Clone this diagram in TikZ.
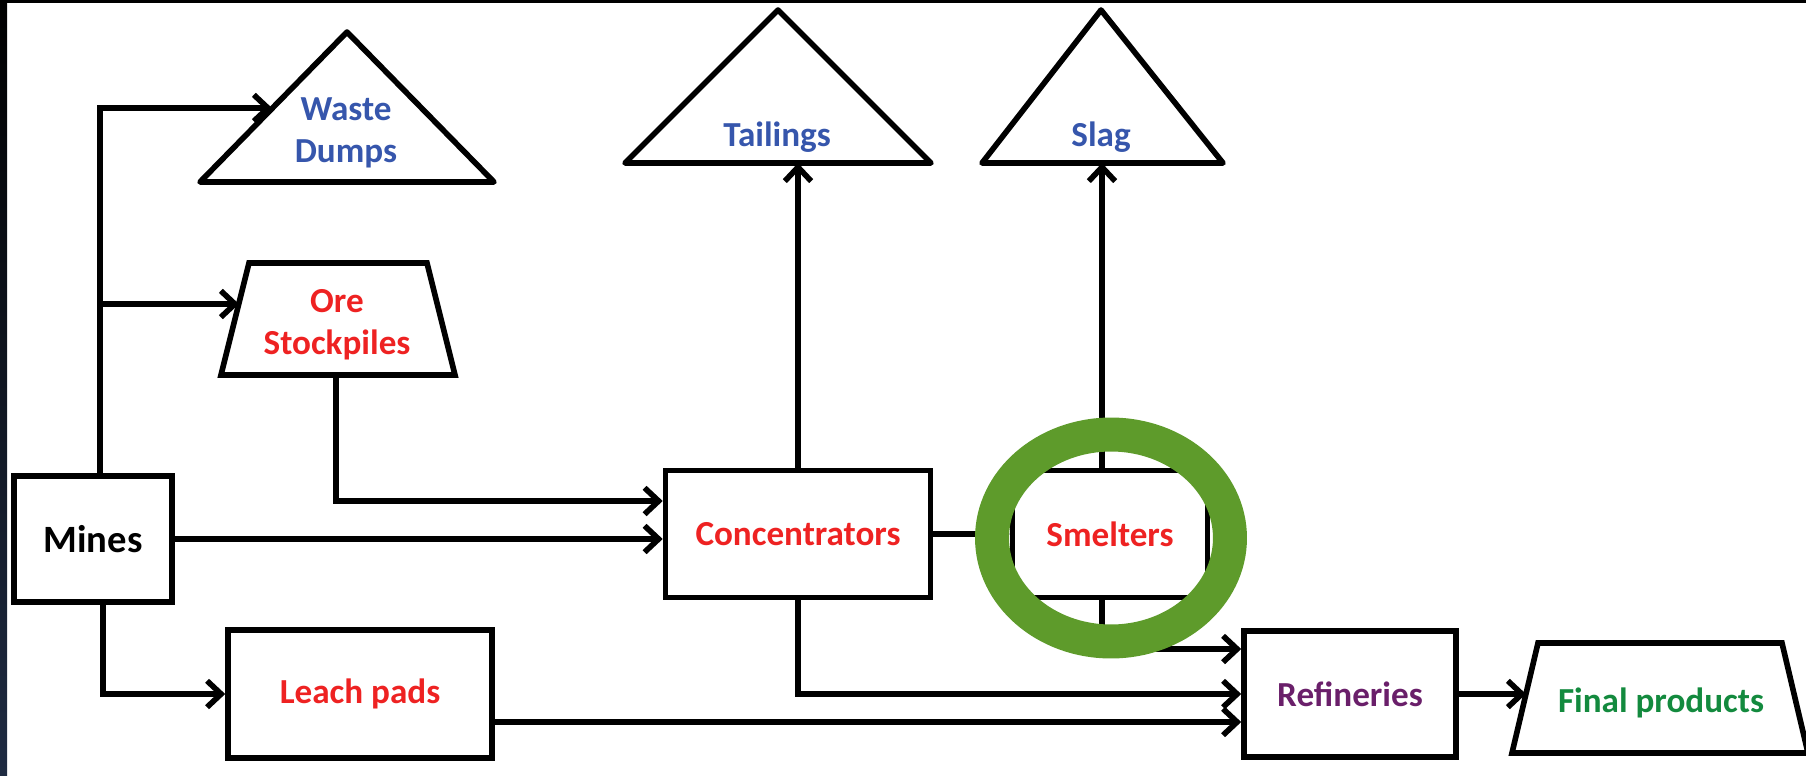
\documentclass[tikz,border=0pt]{standalone}
\usepackage{fontspec}
\setmainfont{Carlito}
\usetikzlibrary{arrows.meta,positioning,shapes.geometric}
\definecolor{wasteblue}{HTML}{3656AC}
\definecolor{orered}{HTML}{EE2222}
\definecolor{refpurple}{HTML}{6A1F6A}
\definecolor{prodgreen}{HTML}{138A3E}
\definecolor{ringgreen}{HTML}{5E9B2B}
\definecolor{edgenavy}{HTML}{1F2B42}
\begin{document}
\begin{tikzpicture}[x=0.02cm,y=-0.02cm,line width=3.2pt,
 >={Straight Barb[length=8pt,width=15pt]},
 font=\bfseries\fontsize{20}{24}\selectfont,
 box/.style={draw,fill=white,align=center,inner sep=0pt},
 lbl/.style={align=center,inner sep=0pt}]
\useasboundingbox (0,0) rectangle (1806,775);
\shade[top color=black,bottom color=edgenavy] (0,0) rectangle (7,775);
\fill[black] (0,0) rectangle (1806,3);
% stocks drawn as triangles and trapezia
\coordinate (wdL) at (200,182); \coordinate (wdT) at (347,32); \coordinate (wdR) at (494,182);
\coordinate (tlL) at (625,163); \coordinate (tlT) at (778,10); \coordinate (tlR) at (931,163);
\coordinate (sgL) at (982,163); \coordinate (sgT) at (1101,10); \coordinate (sgR) at (1223,163);
\draw[line join=round] (wdL)--(wdT)--(wdR)--cycle;
\draw[line join=round] (tlL)--(tlT)--(tlR)--cycle;
\draw[line join=round] (sgL)--(sgT)--(sgR)--cycle;
\draw[line join=miter] (221,375)--(249,263)--(427,263)--(455,375)--cycle;
\draw[line join=miter] (1512,753)--(1538,643)--(1782,643)--(1808,753)--cycle;
\node[lbl,text=wasteblue] (waste) at (346,133) {Waste\\Dumps};
\node[lbl,text=wasteblue] (tail) at (777,137) {Tailings};
\node[lbl,text=wasteblue] (slag) at (1101,137) {Slag};
\node[lbl,text=orered] (ore) at (337,325) {Ore\\Stockpiles};
\node[lbl,text=prodgreen] (final) at (1661,703) {Final products};
\coordinate (wdIn) at (272,108);
\coordinate (oreIn) at (239,304);
\coordinate (oreOut) at (336,375);
\coordinate (finIn) at (1526,694);
% process units
\node[box,minimum width=3.16cm,minimum height=2.52cm,font=\bfseries\fontsize{22}{26}\selectfont] (mines) at (93,539) {Mines};
\node[box,minimum width=5.28cm,minimum height=2.56cm,text=orered] (leach) at (360,694) {Leach pads};
\node[box,minimum width=5.3cm,minimum height=2.54cm,text=orered] (conc) at (798,534) {Concentrators};
\node[box,minimum width=3.9cm,minimum height=2.54cm,text=orered] (smelt) at (1110,534) {Smelters};
\node[box,minimum width=4.24cm,minimum height=2.52cm,text=refpurple] (refin) at (1350,694) {Refineries};
% flows
\draw[->] ([xshift=.14cm]mines.north) |- (wdIn);
\draw[->] ([xshift=.14cm]mines.north) |- (oreIn);
\draw[->] (oreOut) |- ([yshift=.66cm]conc.west);
\draw[->] (mines.east) -- (mines.east -| conc.west);
\draw[->] ([xshift=.2cm]mines.south) |- (leach.west);
\draw[->] ([yshift=-.56cm]leach.east) -- ([yshift=-.56cm]leach.east -| refin.west);
\draw[->] (conc.north) -- (conc.north |- tlL);
\draw[->] (conc.east) -- (smelt.west);
\draw[->] (conc.south) |- (refin.west);
\draw[->] ([xshift=-.16cm]smelt.north) -- ([xshift=-.16cm]smelt.north |- sgL);
\draw[->] ([xshift=-.16cm]smelt.south) |- ([yshift=.9cm]refin.west);
\draw[->] (refin.east) -- (finIn);
% highlight
\node[ellipse,draw=ringgreen,line width=0.68cm,minimum width=4.76cm,minimum height=4.14cm] (mark) at (1111,538) {};
\end{tikzpicture}
\end{document}
